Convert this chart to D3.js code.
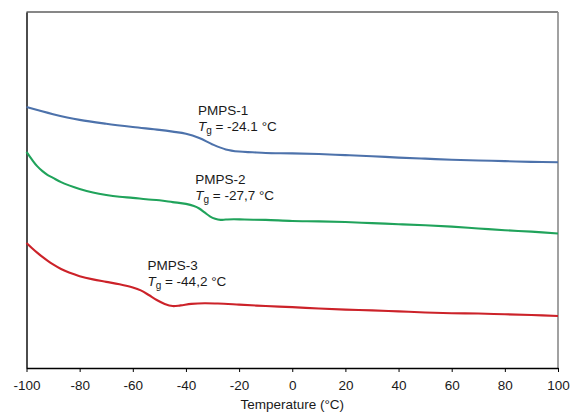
<!DOCTYPE html>
<meta charset="UTF-8">
<html>
<head>
  <style>
    body { margin: 0; background: #fff; }
    text { font-family: Arial, "Liberation Sans", sans-serif; fill: #1a1a1a; }
    .axis path, .axis line { stroke: #000; }
    .curve { fill: none; stroke-width: 2.1px; stroke-linejoin: round; }
  </style>
</head>
<body>
  <div id="chart"></div>
  <script src="https://d3js.org/d3.v7.min.js"></script>
  <script>
    // temperatures (°C) at which the traces were read
    const temp1 = [-100, -90, -80, -70, -60, -50, -45, -40, -35, -30, -25, -20, -15, -10, 0, 10, 20, 30, 40, 50, 60, 70, 80, 90, 100];
    const pmps1 = [7.33, 7.13, 6.97, 6.86, 6.77, 6.69, 6.64, 6.58, 6.46, 6.28, 6.14, 6.08, 6.06, 6.04, 6.03, 6.01, 5.98, 5.95, 5.91, 5.88, 5.85, 5.83, 5.81, 5.79, 5.78];

    const temp2 = [-100, -98, -96, -94, -92, -90, -87, -84, -80, -75, -70, -65, -60, -55, -50, -45, -40, -37, -35, -33, -31, -29, -27, -25, -22, -18, -10, 0, 10, 20, 30, 40, 50, 60, 70, 80, 90, 100];
    const pmps2 = [6.07, 5.86, 5.67, 5.53, 5.42, 5.34, 5.22, 5.13, 5.03, 4.93, 4.86, 4.81, 4.78, 4.74, 4.71, 4.66, 4.61, 4.55, 4.48, 4.37, 4.26, 4.19, 4.16, 4.17, 4.18, 4.17, 4.16, 4.13, 4.12, 4.10, 4.07, 4.04, 4.01, 3.97, 3.92, 3.87, 3.83, 3.78];

    const temp3 = [-100, -98, -96, -94, -92, -90, -87, -84, -80, -75, -70, -65, -60, -57, -54, -51, -48, -45, -42, -38, -33, -28, -20, -10, 0, 10, 20, 30, 40, 50, 60, 70, 80, 90, 100];
    const pmps3 = [3.51, 3.37, 3.24, 3.12, 3.01, 2.91, 2.78, 2.68, 2.58, 2.49, 2.42, 2.35, 2.26, 2.18, 2.05, 1.91, 1.80, 1.74, 1.76, 1.80, 1.82, 1.81, 1.78, 1.74, 1.71, 1.67, 1.64, 1.62, 1.59, 1.56, 1.54, 1.53, 1.51, 1.49, 1.46];

    const xTicks = [-100, -80, -60, -40, -20, 0, 20, 40, 60, 80, 100];
    const names = ["PMPS-1", "PMPS-2", "PMPS-3"];
    const tgLabels = ["-24.1 °C", "-27,7 °C", "-44,2 °C"];
    const colors = ["#4d72ab", "#20a35b", "#cc2229"];

    var width = 571, height = 412;
    var margin = { top: 12, right: 13, bottom: 44, left: 26.5 };

    var svg = d3.select("#chart").append("svg")
      .attr("width", width)
      .attr("height", height);

    var x = d3.scaleLinear().domain([-100, 100])
      .range([margin.left, width - margin.right]);
    var y = d3.scaleLinear().domain([0, 10])
      .range([height - margin.bottom, margin.top]);

    // frame: top black, right grey
    svg.append("line")
      .attr("x1", x(-100)).attr("x2", x(100))
      .attr("y1", y(10)).attr("y2", y(10))
      .attr("stroke", "#111").attr("stroke-width", 1.2);
    svg.append("line")
      .attr("x1", x(100)).attr("x2", x(100))
      .attr("y1", y(10)).attr("y2", y(0))
      .attr("stroke", "#8a8a8a").attr("stroke-width", 1.6);

    svg.append("g")
      .attr("class", "axis")
      .attr("transform", "translate(" + x(-100) + ",0)")
      .call(d3.axisLeft(y).tickValues([]).tickSizeOuter(0))
      .select("path").attr("stroke-width", 1.4);

    var xAxis = svg.append("g")
      .attr("class", "axis")
      .attr("transform", "translate(0," + y(0) + ")")
      .call(d3.axisBottom(x).tickValues(xTicks).tickSize(4).tickSizeOuter(0).tickPadding(8)
        .tickFormat(function (d) { return String(d); }));
    xAxis.select("path").attr("stroke-width", 1.4);
    xAxis.selectAll("text")
      .style("font-size", "13.5px")
      .style("font-family", "Arial, 'Liberation Sans', sans-serif")
      .attr("fill", "#1a1a1a");

    svg.append("text")
      .attr("x", x(0))
      .attr("y", 409)
      .attr("text-anchor", "middle")
      .style("font-size", "13.5px")
      .text("Temperature (°C)");

    var series = [
      { t: temp1, v: pmps1 },
      { t: temp2, v: pmps2 },
      { t: temp3, v: pmps3 }
    ];

    var line = d3.line()
      .x(function (d) { return x(d[0]); })
      .y(function (d) { return y(d[1]); })
      .curve(d3.curveCatmullRom.alpha(0.5));

    series.forEach(function (s, i) {
      svg.append("path")
        .attr("class", "curve")
        .attr("stroke", colors[i])
        .attr("d", line(d3.zip(s.t, s.v)));
    });

    // annotations: name and Tg, anchored at a temperature / heat-flow value
    var labelT = [-35.5, -36.5, -54.5];
    var labelV = [7.1, 5.17, 2.76];
    labelT.forEach(function (t, i) {
      var g = svg.append("g")
        .attr("transform", "translate(" + x(t) + "," + y(labelV[i]) + ")")
        .style("font-size", "13.5px");
      g.append("text").attr("x", 0).attr("y", 0).text(names[i]);
      var tg = g.append("text").attr("x", 0).attr("y", 16);
      tg.append("tspan").style("font-style", "italic").text("T");
      tg.append("tspan").attr("dy", 3).style("font-size", "10px").text("g");
      tg.append("tspan").attr("dy", -3).text(" = " + tgLabels[i]);
    });
  </script>
</body>
</html>
